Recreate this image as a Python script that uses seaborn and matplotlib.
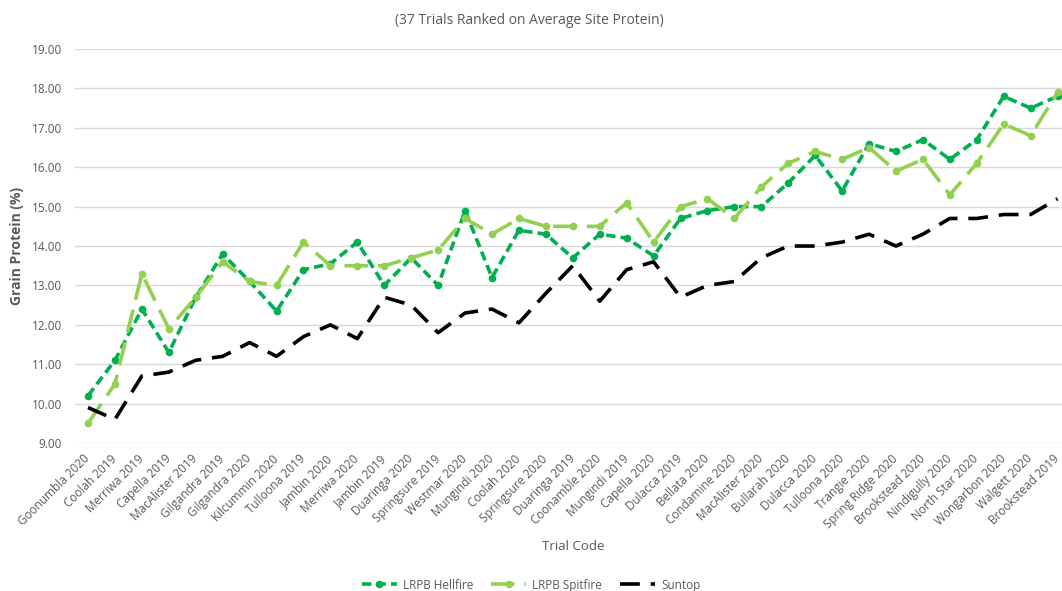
import numpy as np
import pandas as pd
import seaborn as sns
import matplotlib.pyplot as plt
plt.switch_backend('Agg')

TRIALS = ['Goonumbla 2020', 'Coolah 2019', 'Merriwa 2019', 'Capella 2019',
          'MacAlister 2019', 'Gilgandra 2019', 'Gilgandra 2020', 'Kilcummin 2020',
          'Tulloona 2019', 'Jambin 2020', 'Merriwa 2020', 'Jambin 2019',
          'Duaringa 2020', 'Springsure 2019', 'Westmar 2020', 'Mungindi 2020',
          'Coolah 2020', 'Springsure 2020', 'Duaringa 2019', 'Coonamble 2020',
          'Mungindi 2019', 'Capella 2020', 'Dulacca 2019', 'Bellata 2020',
          'Condamine 2020', 'MacAlister 2020', 'Bullarah 2020', 'Dulacca 2020',
          'Tulloona 2020', 'Trangie 2020', 'Spring Ridge 2020', 'Brookstead 2020',
          'Nindigully 2020', 'North Star 2020', 'Wongarbon 2020', 'Walgett 2020',
          'Brookstead 2019']

HELLFIRE = [10.2, 11.1, 12.4, 11.3, 12.7, 13.8, 13.1, 12.35, 13.4, 13.55, 14.1, 13.0,
            13.7, 13.0, 14.9, 13.2, 14.4, 14.3, 13.7, 14.3, 14.2, 13.75, 14.7, 14.9,
            15.0, 15.0, 15.6, 16.3, 15.4, 16.6, 16.4, 16.7, 16.2, 16.7, 17.8, 17.5,
            17.8]
SPITFIRE = [9.5, 10.5, 13.3, 11.9, 12.7, 13.6, 13.1, 13.0, 14.1, 13.5, 13.5, 13.5,
            13.7, 13.9, 14.7, 14.3, 14.7, 14.5, 14.5, 14.5, 15.1, 14.1, 15.0, 15.2,
            14.7, 15.5, 16.1, 16.4, 16.2, 16.5, 15.9, 16.2, 15.3, 16.1, 17.1, 16.8,
            17.9]
SUNTOP = [9.9, 9.6, 10.7, 10.8, 11.1, 11.2, 11.55, 11.2, 11.7, 12.0, 11.65, 12.7,
          12.5, 11.8, 12.3, 12.4, 12.05, 12.8, 13.5, 12.6, 13.4, 13.6, 12.7, 13.0,
          13.1, 13.7, 14.0, 14.0, 14.1, 14.3, 14.0, 14.3, 14.7, 14.7, 14.8, 14.8,
          15.2]

GREY = '#595959'

sns.set_style('white')
plt.rcParams['font.family'] = ['Open Sans', 'DejaVu Sans']

pos = np.arange(len(TRIALS))
df = pd.DataFrame({'pos': pos, 'LRPB Hellfire': HELLFIRE,
                   'LRPB Spitfire': SPITFIRE, 'Suntop': SUNTOP})

fig = plt.figure(figsize=(10.62, 5.91), dpi=100)
ax = fig.add_axes([0.0702, 0.2504, 0.9383, 0.6666])

sns.lineplot(data=df, x='pos', y='LRPB Hellfire', ax=ax, color='#00B050',
             linewidth=2.6, linestyle=(0, (2.6, 1.4)), marker='o', markersize=5.5,
             markeredgewidth=0, label='LRPB Hellfire')
sns.lineplot(data=df, x='pos', y='LRPB Spitfire', ax=ax, color='#92D050',
             linewidth=2.6, linestyle=(0, (6.5, 2.8)), marker='o', markersize=5.5,
             markeredgewidth=0, label='LRPB Spitfire')
sns.lineplot(data=df, x='pos', y='Suntop', ax=ax, color='black',
             linewidth=2.6, linestyle=(0, (5.5, 3.0)), label='Suntop')

ax.set_xlim(-0.5, len(TRIALS) - 0.5)
ax.set_ylim(9, 19)
ax.set_yticks(np.arange(9, 19.5, 1))
ax.set_yticklabels([f'{v:.2f}' for v in np.arange(9, 19.5, 1)])
ax.set_xticks(pos)
ax.set_xticklabels(TRIALS, rotation=45, ha='right', va='center',
                   rotation_mode='anchor')
ax.grid(axis='y', color='#D9D9D9', linewidth=1.0)
ax.set_axisbelow(True)
sns.despine(ax=ax, left=True, right=True, top=True, bottom=True)
ax.tick_params(axis='both', length=0, colors=GREY, labelsize=8.5)
ax.tick_params(axis='y', pad=9)
ax.tick_params(axis='x', pad=10)

ax.set_ylabel('Grain Protein (%)', fontsize=10, fontweight='bold', color=GREY)
ax.yaxis.set_label_coords(-0.051, 0.5)
ax.set_xlabel('Trial Code', fontsize=9.5, color=GREY)
ax.xaxis.set_label_coords(0.5, -0.245)

fig.text(0.498, 0.966, '(37 Trials Ranked on Average Site Protein)',
         ha='center', va='center', fontsize=10, color=GREY)

ax.get_legend().remove()
handles, labels = ax.get_legend_handles_labels()
fig.legend(handles, labels, loc='center', ncol=3, frameon=False,
           bbox_to_anchor=(0.5, 0.01), fontsize=8.5, labelcolor=GREY,
           handlelength=3.0, handletextpad=0.5, columnspacing=1.5)

fig.savefig('out.png', dpi=100)
